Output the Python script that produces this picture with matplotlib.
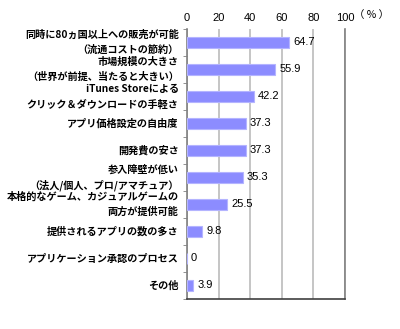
import matplotlib.pyplot as plt
import numpy as np

plt.rcParams['font.family'] = ['Noto Sans CJK JP', 'DejaVu Sans']

labels = [
    "同時に80ヵ国以上への販売が可能\n（流通コストの節約）",
    "市場規模の大きさ\n（世界が前提、当たると大きい）",
    "iTunes Storeによる\nクリック＆ダウンロードの手軽さ",
    "アプリ価格設定の自由度",
    "開発費の安さ",
    "参入障壁が低い\n（法人/個人、プロ/アマチュア）",
    "本格的なゲーム、カジュアルゲームの\n両方が提供可能",
    "提供されるアプリの数の多さ",
    "アプリケーション承認のプロセス",
    "その他",
]
values = [64.7, 55.9, 42.2, 37.3, 37.3, 35.3, 25.5, 9.8, 0, 3.9]
xticks = [0, 20, 40, 60, 80, 100]

fig = plt.figure(figsize=(4, 3.29), dpi=100)
ax = fig.add_axes([0.4675, 0.0912, 0.395, 0.8207])

y = np.arange(len(labels))
ax.barh(y, values, height=0.42, color='#8c8cff', edgecolor='#b4b4ff', linewidth=0.8, zorder=3)
for yi, v in zip(y, values):
    ax.text(v + 2.5, yi, f"{v:g}", va='center', ha='left', fontsize=8,
            family='Liberation Sans', zorder=4)

# category labels, one line at a time so the line gap can be set exactly
for yi, lab in zip(y, labels):
    lines = lab.split("\n")
    n = len(lines)
    for k, line in enumerate(lines):
        off = (k - (n - 1) / 2) * -11.2
        ax.annotate(line, xy=(0, yi), xycoords=('axes fraction', 'data'),
                    xytext=(-6, off), textcoords='offset points',
                    ha='right', va='center', fontsize=7.3, fontweight='bold')

ax.set_xlim(0, 100)
ax.set_ylim(len(labels) - 0.5, -0.5)
ax.xaxis.tick_top()
ax.set_xticks(xticks)
ax.set_xticklabels([str(t) for t in xticks], fontsize=8, family='Liberation Sans')
ax.tick_params(axis='x', length=0, pad=4)
ax.grid(axis='x', color='#c0c0c0', linewidth=1.3, zorder=1)

ax.set_yticks([])
ax.set_yticks(np.arange(len(labels) + 1) - 0.5, minor=True)
ax.tick_params(axis='y', which='minor', length=3, color='#808080')

ax.spines['top'].set_visible(False)
ax.spines['left'].set_color('#808080')
ax.spines['left'].set_linewidth(1.2)
ax.spines['bottom'].set_color('#404040')
ax.spines['bottom'].set_linewidth(1.2)
ax.spines['right'].set_color('#808080')
ax.spines['right'].set_linewidth(1.2)

fig.text(0.884, 0.955, "（ % ）", fontsize=7.5, va='center', ha='left')

fig.savefig('out.png', dpi=100)
